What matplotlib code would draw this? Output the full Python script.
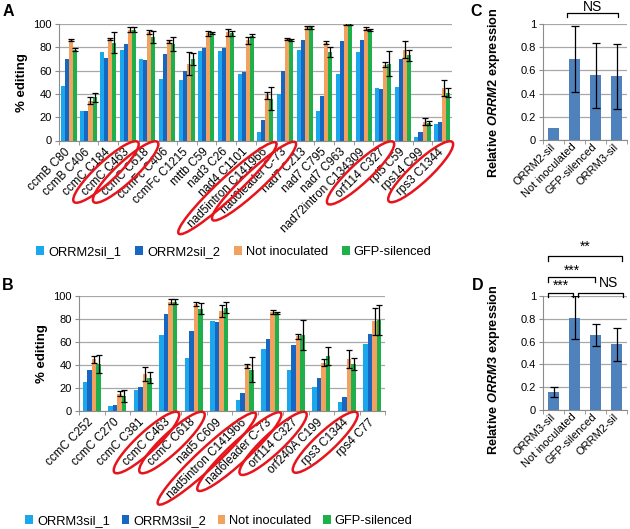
import numpy as np
import matplotlib
matplotlib.use("Agg")
import matplotlib.pyplot as plt
from matplotlib.patches import Ellipse
from matplotlib.transforms import IdentityTransform

plt.rcParams["font.family"] = ["Liberation Sans", "DejaVu Sans"]
plt.rcParams["mathtext.fontset"] = "custom"
plt.rcParams["mathtext.it"] = "Liberation Sans:italic:bold"
plt.rcParams["mathtext.rm"] = "Liberation Sans:bold"

C1 = "#1AA7EC"
C2 = "#1766C2"
ORANGE = "#F2A25E"
GREEN = "#1FAF4B"
XBLUE = "#4F81BD"
GRID = "#A8A8A8"
RED = "#E8141C"

# ---- panel A data ----
A_sites = ["ccmB C80", "ccmB C406", "ccmC C184", "ccmC C463", "ccmC C618",
           "ccmFc C406", "ccmFc C1215", "mttb C59", "nad3 C26", "nad4 C1101",
           "nad5intron C141966", "nad6leader C-73", "nad7 C213", "nad7 C795",
           "nad7 C963", "nad72intron C134309", "orf114 C327", "rpl5 C59",
           "rps14 C99", "rps3 C1344"]
A_sil1 = [47, 25, 76, 78, 70, 53, 52, 77, 77, 57, 7, 40, 78, 25, 57, 76, 45, 46, 3, 14]
A_sil2 = [70, 25, 71, 83, 69, 74, 60, 79, 79, 59, 18, 60, 86, 38, 85, 86, 44, 70, 7, 16]
A_noninoc = [86, 34, 87, 95, 93, 85, 66, 92, 93, 86, 39, 87, 97, 84, 100, 96, 65, 78, 16, 45]
A_noninoc_err = [1, 3, 1, 2, 2, 1, 10, 2, 3, 3, 3, 1, 1, 1, 0.5, 1, 2, 7, 3, 7]
A_gfp = [78, 37, 84, 95, 89, 83, 70, 92, 92, 90, 36, 86, 97, 76, 100, 95, 66, 73, 15, 41]
A_gfp_err = [1, 4, 9, 2, 5, 6, 5, 1, 2, 1, 10, 1, 1, 4, 0.5, 1, 11, 5, 2, 4]
A_legend = ["ORRM2sil_1", "ORRM2sil_2", "Not inoculated", "GFP-silenced"]

# ---- panel B data ----
B_sites = ["ccmC C252", "ccmC C270", "ccmC C381", "ccmC C463", "ccmC C618",
           "nad5 C609", "nad5intron C141966", "nad6leader C-73", "orf114 C327",
           "orf240A C199", "rps3 C1344", "rps4 C77"]
B_sil1 = [25, 4, 18, 66, 46, 78, 9.5, 54, 36, 21, 7.5, 58]
B_sil2 = [36, 5, 21, 84, 70, 77, 16, 63, 57, 29, 12.5, 67]
B_noninoc = [45, 15, 32, 95, 93, 87, 39, 86, 65, 42, 45, 78]
B_noninoc_err = [3, 2, 6, 2, 2, 5, 2, 2, 2, 3, 8, 12]
B_gfp = [41, 13, 29, 95, 89, 90, 36, 85, 66, 48, 41, 79]
B_gfp_err = [8, 5, 5, 2, 5, 5, 11, 1, 13, 8, 5, 13]
B_legend = ["ORRM3sil_1", "ORRM3sil_2", "Not inoculated", "GFP-silenced"]

circled = {"ccmC C463", "ccmC C618", "nad5intron C141966", "nad6leader C-73",
           "orf114 C327", "rps3 C1344"}

# ---- panels C / D data ----
C_labels = ["ORRM2-sil", "Not inoculated", "GFP-silenced", "ORRM3-sil"]
C_vals = [0.10, 0.695, 0.56, 0.55]
C_err = [0, 0.285, 0.28, 0.28]
D_labels = ["ORRM3-sil", "Not inoculated", "GFP-silenced", "ORRM2-sil"]
D_vals = [0.155, 0.81, 0.66, 0.575]
D_err = [0.045, 0.19, 0.095, 0.145]

fig = plt.figure(figsize=(6.3, 5.29), dpi=100)
W, H = 630, 529


def px_axes(x0, y0, x1, y1):
    return fig.add_axes([x0 / W, 1 - y1 / H, (x1 - x0) / W, (y1 - y0) / H])


def excel_style(ax, n):
    for s in ["top", "right"]:
        ax.spines[s].set_visible(False)
    ax.spines["left"].set_color("#8C8C8C")
    ax.spines["bottom"].set_color("#8C8C8C")
    ax.yaxis.grid(True, color=GRID, linewidth=0.9)
    ax.set_axisbelow(True)
    ax.set_xlim(-0.5, n - 0.5)
    ax.set_xticks(np.arange(-0.5, n, 1.0), minor=True)
    ax.tick_params(axis="x", which="minor", length=3, color="#8C8C8C")
    ax.tick_params(axis="x", which="major", length=0, pad=7)
    ax.tick_params(axis="y", length=3, color="#8C8C8C", labelsize=8, pad=2)


def editing_panel(ax, sites, s1, s2, ni, ni_e, gf, gf_e, frac):
    n = len(sites)
    x = np.arange(n)
    w = frac / 4
    kw = dict(ecolor="black", elinewidth=0.9, capsize=2.3, capthick=0.9)
    ax.bar(x - 1.5 * w, s1, w, color=C1)
    ax.bar(x - 0.5 * w, s2, w, color=C2)
    ax.bar(x + 0.5 * w, ni, w, color=ORANGE, yerr=ni_e, error_kw=kw)
    ax.bar(x + 1.5 * w, gf, w, color=GREEN, yerr=gf_e, error_kw=kw)
    excel_style(ax, n)
    ax.set_ylim(0, 100)
    ax.set_yticks(range(0, 101, 20))
    ax.set_xticks(x)
    ax.set_xticklabels(sites, rotation=45, ha="right", va="center",
                       rotation_mode="anchor", fontsize=8.5)
    ax.set_ylabel("% editing", fontsize=9.5, fontweight="bold", labelpad=4)


def expr_panel(ax, labels, vals, err, gene, label_y):
    x = np.arange(len(labels))
    ax.bar(x, vals, 0.57, color=XBLUE)
    mask = np.array(err) > 0
    ax.errorbar(x[mask], np.array(vals)[mask], yerr=np.array(err)[mask], fmt="none",
                ecolor="black", elinewidth=0.9, capsize=3, capthick=0.9)
    excel_style(ax, len(labels))
    ax.tick_params(axis="x", which="major", pad=4)
    ax.set_ylim(0, 1)
    ax.set_yticks(np.arange(0, 1.01, 0.2))
    ax.set_yticklabels(["0", "0.2", "0.4", "0.6", "0.8", "1"])
    ax.set_xticks(x)
    ax.set_xticklabels(labels, rotation=45, ha="right", va="center",
                       rotation_mode="anchor", fontsize=8)
    ax.set_ylabel(r"Relative $\mathit{%s}$ expression" % gene, fontsize=9.2,
                  fontweight="bold")
    ax.yaxis.set_label_coords(-0.49, label_y)


def bracket(ax, x0, x1, y, drop):
    ax.plot([x0, x0, x1, x1], [y - drop, y, y, y - drop], color="black",
            linewidth=0.9, clip_on=False)


axA = px_axes(59, 24, 452, 140.5)
editing_panel(axA, A_sites, A_sil1, A_sil2, A_noninoc, A_noninoc_err, A_gfp, A_gfp_err, 0.82)
axA.legend(A_legend, loc="center", bbox_to_anchor=(234 / W, 1 - 252 / H),
           bbox_transform=fig.transFigure, ncol=4, frameon=False, fontsize=9.3,
           handlelength=0.6, handleheight=0.6, handletextpad=0.3, columnspacing=1.1)

axB = px_axes(79, 296, 385, 411)
editing_panel(axB, B_sites, B_sil1, B_sil2, B_noninoc, B_noninoc_err, B_gfp, B_gfp_err, 0.72)
axB.legend(B_legend, loc="center", bbox_to_anchor=(219 / W, 1 - 521 / H),
           bbox_transform=fig.transFigure, ncol=4, frameon=False, fontsize=9.3,
           handlelength=0.6, handleheight=0.6, handletextpad=0.3, columnspacing=0.9)

axC = px_axes(543, 24, 627, 140)
expr_panel(axC, C_labels, C_vals, C_err, "ORRM2", 0.41)
bracket(axC, 0.65, 3.05, 1.097, 0.035)
axC.text(1.85, 1.15, "NS", ha="center", va="center", fontsize=10, clip_on=False)

axD = px_axes(543, 296, 627, 410)
expr_panel(axD, D_labels, D_vals, D_err, "ORRM3", 0.35)
bracket(axD, -0.26, 3.26, 1.351, 0.04)
axD.text(1.5, 1.435, "**", ha="center", va="center", fontsize=10, clip_on=False)
bracket(axD, -0.26, 1.98, 1.167, 0.04)
axD.text(0.88, 1.225, "***", ha="center", va="center", fontsize=10, clip_on=False)
bracket(axD, -0.26, 0.93, 1.029, 0.035)
axD.text(0.33, 1.09, "***", ha="center", va="center", fontsize=10, clip_on=False)
bracket(axD, 1.17, 3.3, 1.026, 0.035)
axD.text(2.6, 1.11, "NS", ha="center", va="center", fontsize=10, clip_on=False)

for letter, (lx, ly) in zip("ABCD", [(3, 12), (2, 285), (470, 12), (472, 285)]):
    fig.text(lx / W, 1 - ly / H, letter, fontsize=11.5, fontweight="bold",
             ha="left", va="center")

# red ellipses round the circled editing sites
fig.canvas.draw()
r = fig.canvas.get_renderer()
for ax in (axA, axB):
    for lab in ax.get_xticklabels():
        if lab.get_text() in circled:
            bb = lab.get_window_extent(r)
            cx, cy = (bb.x0 + bb.x1) / 2, (bb.y0 + bb.y1) / 2
            L = bb.width * np.sqrt(2) - 12
            fig.add_artist(Ellipse((cx, cy), L + 26, 20, angle=43, fill=False,
                                   edgecolor=RED, linewidth=1.8,
                                   transform=IdentityTransform()))

fig.savefig("out.png", dpi=100)
